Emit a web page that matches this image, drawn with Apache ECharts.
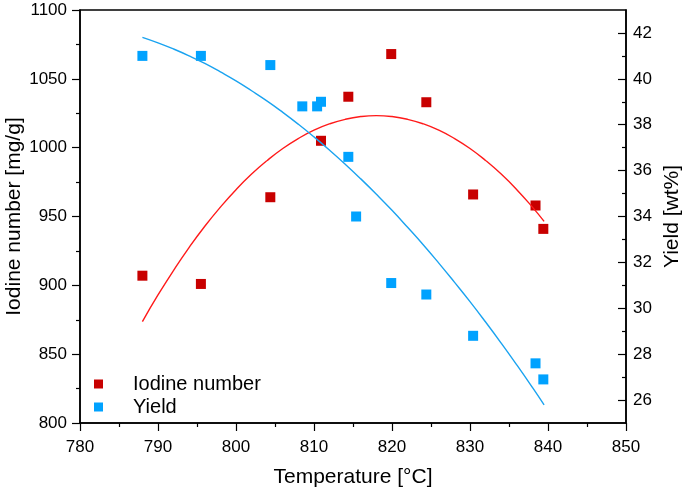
<!DOCTYPE html>
<html>
<head>
<meta charset="utf-8">
<script src="https://cdn.jsdelivr.net/npm/echarts@6/dist/echarts.min.js"></script>
<style>
html,body{margin:0;padding:0;background:#fff;}
#chart{width:685px;height:491px;}
</style>
</head>
<body>
<div id="chart"></div>
<script>
// Measured data (Iodine number, left axis)
const tempIodine = [788.0, 795.5, 804.4, 810.9, 814.4, 819.9, 824.4, 830.4, 838.4, 839.4];
const iodineNumber = [907, 901, 964, 1005, 1037, 1068, 1033, 966, 958, 941];
// Measured data (Yield, right axis)
const tempYield = [788.0, 795.5, 804.4, 808.5, 810.4, 810.9, 814.4, 815.4, 819.9, 824.4, 830.4, 838.4, 839.4];
const yieldWt = [41.0, 41.0, 40.6, 38.8, 38.8, 39.0, 36.6, 34.0, 31.1, 30.6, 28.8, 27.6, 26.9];
// Fit curves
const fitIodineT = [788, 790, 792, 794, 796, 798, 800, 802, 804, 806, 808, 810, 812, 814, 816, 818, 820, 822, 824, 826, 828, 830, 832, 834, 836, 838, 839.5];
const fitIodineV = [873.7, 893.0, 910.9, 927.6, 942.9, 956.8, 969.5, 980.8, 990.7, 999.4, 1006.7, 1012.7, 1017.3, 1020.6, 1022.6, 1023.3, 1022.6, 1020.6, 1017.3, 1012.7, 1006.7, 999.4, 990.7, 980.8, 969.5, 956.8, 946.5];
const fitYieldT = [788, 790, 792, 794, 796, 798, 800, 802, 804, 806, 808, 810, 812, 814, 816, 818, 820, 822, 824, 826, 828, 830, 832, 834, 836, 838, 839.5];
const fitYieldV = [41.81, 41.57, 41.30, 41.00, 40.67, 40.30, 39.91, 39.48, 39.03, 38.54, 38.02, 37.47, 36.89, 36.28, 35.64, 34.97, 34.27, 33.53, 32.77, 31.97, 31.14, 30.29, 29.40, 28.48, 27.53, 26.55, 25.79];
// Tick values
const leftTicks = {min: 800, max: 1100, interval: 50};
const xTicks = {min: 780, max: 850, interval: 10};
const rightMajor = [26, 28, 30, 32, 34, 36, 38, 40, 42];
const rightMinor = [27, 29, 31, 33, 35, 37, 39, 41];

const zip = (a, b) => a.map((v, i) => [v, b[i]]);
const FONT = 'Liberation Sans, Arial, sans-serif';
const axisLineStyle = {color: '#000', width: 1.5};
const plain = v => String(v);

const chart = echarts.init(document.getElementById('chart'), null, {renderer: 'canvas'});
chart.setOption({
  animation: false,
  backgroundColor: '#fff',
  grid: {left: 80, right: 59, top: 10, bottom: 68, containLabel: false, outerBoundsMode: 'none',
    show: true, borderColor: '#000', borderWidth: 1.5, backgroundColor: 'transparent'},
  legend: {
    orient: 'vertical', left: 89, top: 369, itemGap: 3,
    icon: 'rect', itemWidth: 9, itemHeight: 9,
    textStyle: {fontFamily: FONT, fontSize: 20, color: '#000', lineHeight: 20, padding: [0, 0, 0, 25]},
    data: ['Iodine number', 'Yield']
  },
  xAxis: {
    type: 'value', min: xTicks.min, max: xTicks.max, interval: xTicks.interval,
    name: 'Temperature [°C]', nameLocation: 'middle', nameGap: 44, nameMoveOverlap: false,
    nameTextStyle: {fontFamily: FONT, fontSize: 21, color: '#000'},
    axisLine: {show: true, onZero: false, lineStyle: axisLineStyle},
    axisTick: {show: true, inside: false, length: 8, lineStyle: {color: '#000', width: 1.2}},
    minorTick: {show: true, splitNumber: 2, length: 4, lineStyle: {color: '#000', width: 1.2}},
    axisLabel: {fontFamily: FONT, fontSize: 17, color: '#000', margin: 16, formatter: plain},
    splitLine: {show: false}
  },
  yAxis: [
    {
      type: 'value', position: 'left', min: leftTicks.min, max: leftTicks.max, interval: leftTicks.interval,
      name: 'Iodine number [mg/g]', nameLocation: 'middle', nameGap: 55, nameRotate: 90, nameMoveOverlap: false,
      nameTextStyle: {fontFamily: FONT, fontSize: 21, color: '#000'},
      axisLine: {show: true, onZero: false, lineStyle: axisLineStyle},
      axisTick: {show: true, inside: false, length: 8, lineStyle: {color: '#000', width: 1.2}},
      minorTick: {show: true, splitNumber: 2, length: 4, lineStyle: {color: '#000', width: 1.2}},
      axisLabel: {fontFamily: FONT, fontSize: 17, color: '#000', margin: 13, formatter: plain},
      splitLine: {show: false}
    },
    {
      type: 'value', position: 'right', min: 25, max: 43,
      name: 'Yield [wt%]', nameLocation: 'middle', nameGap: 36, nameRotate: 90, nameMoveOverlap: false,
      nameTextStyle: {fontFamily: FONT, fontSize: 21, color: '#000'},
      axisLine: {show: true, onZero: false, lineStyle: axisLineStyle},
      axisTick: {show: true, inside: true, length: 8, customValues: rightMajor, lineStyle: {color: '#000', width: 1.2}},
      axisLabel: {fontFamily: FONT, fontSize: 17, color: '#000', margin: 7, customValues: rightMajor, formatter: plain},
      splitLine: {show: false}
    },
    {
      type: 'value', position: 'right', min: 25, max: 43,
      axisLine: {show: false},
      axisTick: {show: true, inside: true, length: 4, customValues: rightMinor, lineStyle: {color: '#000', width: 1.2}},
      axisLabel: {show: false},
      splitLine: {show: false}
    }
  ],
  series: [
    {
      name: 'Iodine number', type: 'scatter', yAxisIndex: 0, symbol: 'rect', symbolSize: 10,
      itemStyle: {color: '#C80000', opacity: 1}, data: zip(tempIodine, iodineNumber), z: 2
    },
    {
      name: 'Yield', type: 'scatter', yAxisIndex: 1, symbol: 'rect', symbolSize: 10,
      itemStyle: {color: '#00A2FF', opacity: 1}, data: zip(tempYield, yieldWt), z: 2
    },
    {
      name: 'Iodine fit', type: 'line', yAxisIndex: 0, smooth: true, showSymbol: false, symbol: 'none',
      lineStyle: {color: '#FF1A1A', width: 1.4}, data: zip(fitIodineT, fitIodineV), z: 3
    },
    {
      name: 'Yield fit', type: 'line', yAxisIndex: 1, smooth: true, showSymbol: false, symbol: 'none',
      lineStyle: {color: '#1AA3F0', width: 1.4}, data: zip(fitYieldT, fitYieldV), z: 3
    }
  ]
});
</script>
</body>
</html>
